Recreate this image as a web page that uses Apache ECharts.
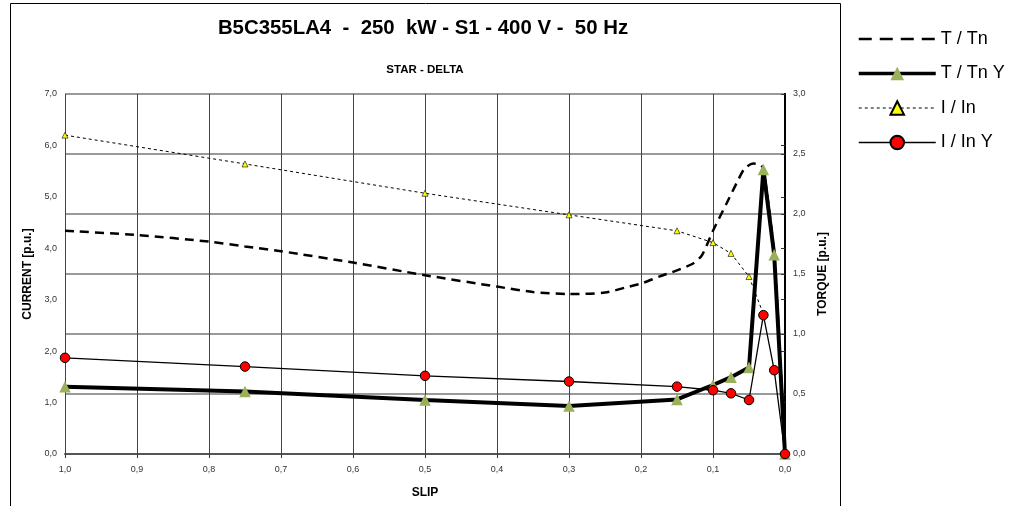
<!DOCTYPE html>
<html>
<head>
<meta charset="utf-8">
<script src="https://cdn.jsdelivr.net/npm/echarts@6/dist/echarts.min.js"></script>
<style>html,body{margin:0;padding:0;background:#fff;}#c{width:1025px;height:506px;}</style>
</head>
<body>
<div id="c"></div>
<script>
// Slip points shared by the measured series
const slip = [1.0, 0.75, 0.5, 0.3, 0.15, 0.1, 0.075, 0.05, 0.03, 0.015, 0.0];
// I / In (direct, left axis)
const iInSlip = [1.0, 0.75, 0.5, 0.3, 0.15, 0.1, 0.075, 0.05, 0.03];
const iIn = [6.20, 5.64, 5.07, 4.65, 4.34, 4.11, 3.90, 3.45, 2.72];
// I / In Y (star, left axis)
const iInY = [1.87, 1.70, 1.52, 1.41, 1.31, 1.24, 1.18, 1.05, 2.70, 1.63, 0.0];
// T / Tn Y (star, right axis)
const tTnY = [0.56, 0.52, 0.45, 0.40, 0.455, 0.575, 0.64, 0.72, 2.37, 1.66, 0.0];
// T / Tn (direct, right axis) - curve read along its length
const tTnSlip = [1.0, 0.9, 0.8, 0.75, 0.7, 0.6, 0.5, 0.4, 0.35, 0.3, 0.25, 0.22, 0.2, 0.174, 0.15, 0.127, 0.115, 0.1, 0.081, 0.067, 0.056, 0.044, 0.035, 0.03, 0.015, 0.0];
const tTn = [1.86, 1.825, 1.77, 1.73, 1.69, 1.595, 1.49, 1.395, 1.35, 1.333, 1.345, 1.39, 1.42, 1.48, 1.53, 1.59, 1.66, 1.86, 2.09, 2.26, 2.38, 2.42, 2.41, 2.38, 1.65, 0.0];

const titleText = 'B5C355LA4  -  250  kW - S1 - 400 V -  50 Hz';
const subtitleText = 'STAR - DELTA';
const names = ['T / Tn', 'T / Tn Y', 'I / In', 'I / In Y'];

const pair = (xs, ys) => xs.map((x, i) => [x, ys[i]]);
const fmt = v => v.toFixed(1).replace('.', ',');
const FONT = 'Liberation Sans, Arial, sans-serif';

const chart = echarts.init(document.getElementById('c'));
chart.setOption({
  animation: false,
  backgroundColor: '#fff',
  textStyle: { fontFamily: FONT },
  graphic: [
    { type: 'rect', shape: { x: 10.5, y: 3.5, width: 830, height: 520 },
      style: { fill: 'none', stroke: '#000', lineWidth: 1 }, z: -10 }
  ],
  title: [
    { text: titleText, left: 418, top: 13, textAlign: 'center',
      textStyle: { fontSize: 20.4, fontWeight: 'bold', color: '#000', fontFamily: FONT } },
    { text: subtitleText, left: 420, top: 59, textAlign: 'center',
      textStyle: { fontSize: 11.5, fontWeight: 'bold', color: '#000', fontFamily: FONT } }
  ],
  legend: {
    orient: 'vertical', left: 852, top: 24,
    itemWidth: 77, itemHeight: 17, itemGap: 14.5,
    data: [
      { name: names[0], itemStyle: { color: 'rgba(0,0,0,0)', borderWidth: 0 },
        lineStyle: { width: 2.5, type: [13, 8], color: '#000' } },
      { name: names[1], lineStyle: { width: 3.5, color: '#000' } },
      { name: names[2], lineStyle: { width: 1, type: [3, 3], color: '#000' } },
      { name: names[3], lineStyle: { width: 1.5, color: '#000' } }
    ],
    textStyle: { fontSize: 18, color: '#000', lineHeight: 20, fontFamily: FONT }
  },
  grid: { left: 65, right: 240, top: 94, bottom: 52 },
  xAxis: {
    type: 'value', min: 0, max: 1, interval: 0.1, inverse: true,
    name: 'SLIP', nameLocation: 'middle', nameGap: 33,
    nameTextStyle: { fontSize: 12, fontWeight: 'bold', color: '#000' },
    axisLine: { lineStyle: { color: '#555', width: 2 } },
    axisTick: { show: true, length: 4, lineStyle: { color: '#333' } },
    axisLabel: { formatter: fmt, fontSize: 9, color: '#333', margin: 11 },
    splitLine: { show: true, lineStyle: { color: '#444', width: 1 } }
  },
  yAxis: [
    {
      type: 'value', min: 0, max: 7, interval: 1, position: 'left',
      name: 'CURRENT [p.u.]', nameLocation: 'middle', nameGap: 30, nameRotate: 90,
      nameTextStyle: { fontSize: 12, fontWeight: 'bold', color: '#000' },
      axisLine: { show: true, lineStyle: { color: '#000', width: 2 } },
      axisTick: { show: true, length: 4, lineStyle: { color: '#333' } },
      axisLabel: { formatter: fmt, fontSize: 9, color: '#333', margin: 8 },
      splitLine: { show: false }
    },
    {
      type: 'value', min: 0, max: 3, interval: 0.5, position: 'right',
      name: 'TORQUE [p.u.]', nameLocation: 'middle', nameGap: 24, nameRotate: 90,
      nameTextStyle: { fontSize: 12, fontWeight: 'bold', color: '#000' },
      axisLine: { show: true, lineStyle: { color: '#000', width: 2 } },
      axisTick: { show: true, inside: true, length: 4, lineStyle: { color: '#333' } },
      axisLabel: { formatter: fmt, fontSize: 9, color: '#333', margin: 8 },
      splitLine: { show: true, lineStyle: { color: '#999', width: 2 } }
    }
  ],
  series: [
    {
      name: names[0], type: 'line', yAxisIndex: 1, data: pair(tTnSlip, tTn),
      smooth: 0.25, symbol: 'none', z: 2,
      lineStyle: { color: '#000', width: 2.5, type: [9, 6] },
      itemStyle: { color: '#000' }
    },
    {
      name: names[1], type: 'line', yAxisIndex: 1, data: pair(slip, tTnY),
      symbol: 'triangle', symbolSize: 11.5, z: 4,
      lineStyle: { color: '#000', width: 4 },
      itemStyle: { color: '#9bb05a', borderWidth: 0 }
    },
    {
      name: names[2], type: 'line', yAxisIndex: 0, data: pair(iInSlip, iIn),
      symbol: 'triangle', symbolSize: 6, z: 3,
      lineStyle: { color: '#000', width: 1, type: [3, 3] },
      itemStyle: { color: '#ffff00', borderColor: '#000', borderWidth: 0.6 }
    },
    {
      name: names[3], type: 'line', yAxisIndex: 0, data: pair(slip, iInY),
      symbol: 'circle', symbolSize: 9.5, z: 5,
      lineStyle: { color: '#000', width: 1.3 },
      itemStyle: { color: '#ff0000', borderColor: '#000', borderWidth: 1 }
    }
  ]
});
</script>
</body>
</html>
